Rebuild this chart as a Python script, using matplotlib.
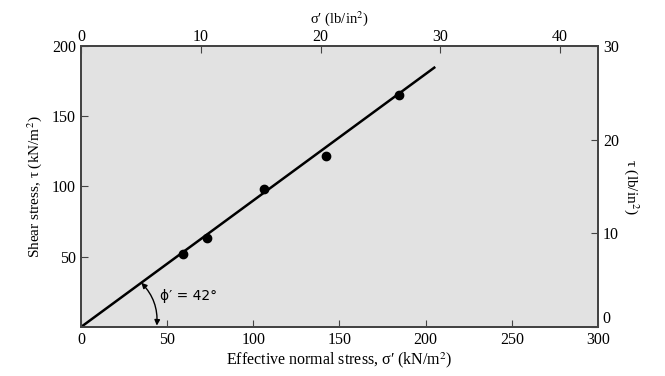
import numpy as np
import matplotlib
matplotlib.use("Agg")
import matplotlib.pyplot as plt

plt.rcParams["font.family"] = ["Liberation Serif", "DejaVu Serif"]
plt.rcParams["mathtext.fontset"] = "stix"

# -------- DATA --------
sigma_kn = [59, 73, 106, 142, 184.5]      # effective normal stress (kN/m2)
tau_kn = [52, 63, 98, 122, 165]           # shear stress (kN/m2)
phi_deg = 42
line_x = [0, 205]
bottom_ticks = [0, 50, 100, 150, 200, 250, 300]
left_ticks = [50, 100, 150, 200]
top_ticks = [0, 10, 20, 30, 40]
right_ticks = [0, 10, 20, 30]

fig = plt.figure(figsize=(6.65, 3.76), dpi=100)
ax = fig.add_axes([0.1218, 0.1303, 0.7774, 0.7474])
ax.set_facecolor("#e2e2e2")

slope = np.tan(np.radians(phi_deg))
ax.plot(line_x, [slope * v for v in line_x], color="black", lw=1.8)
ax.plot(sigma_kn, tau_kn, "o", color="black", ms=6)

ax.set_xlim(0, 300)
ax.set_ylim(0, 200)
ax.set_xticks(bottom_ticks)
ax.set_yticks(left_ticks)
ax.tick_params(direction="in", length=5, labelsize=11.5, color="#444444")
ax.set_xlabel("Effective normal stress, σ′ (kN/m$^2$)", fontsize=11.5, labelpad=2)
ax.set_ylabel("Shear stress, τ (kN/m$^2$)", fontsize=11, labelpad=6)

# angle arc
ax.annotate("", xy=(44, 1), xytext=(35, slope * 35),
            arrowprops=dict(arrowstyle="<|-|>", color="black", lw=1,
                            mutation_scale=8, shrinkA=0, shrinkB=0,
                            connectionstyle="arc3,rad=-0.22"))
ax.text(46, 19, "ϕ′ = 42°", fontsize=10, family=["DejaVu Sans"])

# -------- TOP AXIS (lb/in2) --------
top = ax.twiny()
top.set_xlim(0, 300 / 6.95)
top.set_xticks(top_ticks)
top.tick_params(direction="in", length=5, labelsize=11.5, pad=1, color="#444444")
top.set_xlabel("σ′ (lb/in$^2$)", fontsize=10.5, labelpad=4)

# -------- RIGHT AXIS (lb/in2) --------
right = ax.twinx()
right.set_ylim(0, 30)
right.set_yticks(right_ticks)
right.tick_params(direction="in", length=5, labelsize=11.5, color="#444444")
right.set_ylabel("τ (lb/in$^2$)", fontsize=11, rotation=270, labelpad=16)
right.get_yticklabels()[0].set_verticalalignment("bottom")

for a in (ax, top, right):
    for s in a.spines.values():
        s.set_color("#444444")
        s.set_linewidth(1.2)

fig.savefig("out.png", dpi=100)
